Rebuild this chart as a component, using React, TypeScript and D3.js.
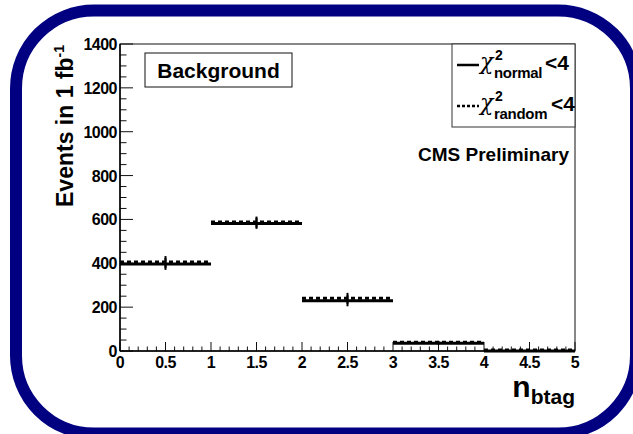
import { useEffect, useRef } from 'react';
import * as d3 from 'd3';

const binEdges = [0, 1, 2, 3, 4, 5];
const normalCounts = [397, 582, 229, 35, 0];
const randomCounts = [406, 588, 240, 40, 4];
const normalErrors = [27, 25, 25, 6, 0];
const randomErrors = [27, 25, 25, 6, 2];
const xTickLabels = ['0', '0.5', '1', '1.5', '2', '2.5', '3', '3.5', '4', '4.5', '5'];
const yTickLabels = ['0', '200', '400', '600', '800', '1000', '1200', '1400'];

const FONT = "'Liberation Sans', Arial, Helvetica, sans-serif";

export default function App() {
  const svgRef = useRef<SVGSVGElement>(null);

  useEffect(() => {
    if (!svgRef.current) return;
    const svg = d3.select(svgRef.current);
    svg.selectAll('*').remove();

    const left = 120, right = 575, top = 44, bottom = 351;
    const x = d3.scaleLinear().domain([0, 5]).range([left, right]);
    const y = d3.scaleLinear().domain([0, 1400]).range([bottom, top]);

    // white page + navy rounded frame
    svg.append('rect').attr('width', 633).attr('height', 434).attr('fill', '#fff');
    svg.append('rect')
      .attr('x', 16).attr('y', 10.5).attr('width', 620).attr('height', 423)
      .attr('rx', 78).attr('ry', 78)
      .attr('fill', '#fff').attr('stroke', '#000080').attr('stroke-width', 12);

    // plot frame
    svg.append('rect')
      .attr('x', left).attr('y', top).attr('width', right - left).attr('height', bottom - top)
      .attr('fill', 'none').attr('stroke', '#111').attr('stroke-width', 1);

    // y ticks
    const yMinor = d3.range(0, 1401, 50);
    svg.append('g').selectAll('line').data(yMinor).enter().append('line')
      .attr('x1', left).attr('x2', d => left + (d % 200 === 0 ? 13 : 6.5))
      .attr('y1', d => y(d)).attr('y2', d => y(d))
      .attr('stroke', '#111').attr('stroke-width', 1);
    svg.append('g').selectAll('text').data(yTickLabels).enter().append('text')
      .attr('x', left - 3).attr('y', d => y(+d) + 6)
      .attr('text-anchor', 'end')
      .attr('font-family', FONT).attr('font-weight', 'bold').attr('font-size', 16)
      .attr('letter-spacing', -0.5)
      .text(d => d);

    // x ticks
    const xMinor = d3.range(0, 51).map(i => i / 10);
    svg.append('g').selectAll('line').data(xMinor).enter().append('line')
      .attr('x1', d => x(d)).attr('x2', d => x(d))
      .attr('y1', bottom).attr('y2', (d, i) => bottom - (i % 5 === 0 ? 9 : 4.5))
      .attr('stroke', '#111').attr('stroke-width', 1);
    svg.append('g').selectAll('text').data(xTickLabels).enter().append('text')
      .attr('x', d => x(+d)).attr('y', bottom + 17)
      .attr('text-anchor', 'middle')
      .attr('font-family', FONT).attr('font-weight', 'bold').attr('font-size', 16)
      .attr('letter-spacing', -0.5)
      .text(d => d);

    // axis lines
    svg.append('line').attr('x1', left).attr('x2', left).attr('y1', top).attr('y2', bottom)
      .attr('stroke', '#000').attr('stroke-width', 1.5);
    svg.append('line').attr('x1', left).attr('x2', right).attr('y1', bottom).attr('y2', bottom)
      .attr('stroke', '#000').attr('stroke-width', 1.5);

    // histograms
    const bins = d3.range(normalCounts.length);
    const drawHist = (counts: number[], errs: number[], dash: string | null) => {
      const g = svg.append('g');
      g.selectAll('line.h').data(bins).enter().append('line')
        .attr('x1', i => x(binEdges[i])).attr('x2', i => x(binEdges[i + 1]))
        .attr('y1', i => y(counts[i])).attr('y2', i => y(counts[i]))
        .attr('stroke', '#000').attr('stroke-width', 3)
        .attr('stroke-dasharray', dash);
      g.selectAll('line.e').data(bins.filter(i => errs[i] > 0)).enter().append('line')
        .attr('x1', i => x((binEdges[i] + binEdges[i + 1]) / 2))
        .attr('x2', i => x((binEdges[i] + binEdges[i + 1]) / 2))
        .attr('y1', i => y(counts[i] - errs[i])).attr('y2', i => y(counts[i] + errs[i]))
        .attr('stroke', '#000').attr('stroke-width', 2);
    };
    drawHist(normalCounts, normalErrors, null);
    drawHist(randomCounts, randomErrors, '4,3');

    // y title
    const yt = svg.append('text')
      .attr('transform', `translate(73,45) rotate(-90)`)
      .attr('text-anchor', 'end')
      .attr('font-family', FONT).attr('font-weight', 'bold').attr('font-size', 23);
    yt.append('tspan').text('Events in 1 fb');
    yt.append('tspan').attr('dy', -9).attr('font-size', 14).text('-1');

    // x title
    const xt = svg.append('text')
      .attr('x', right).attr('y', 397)
      .attr('text-anchor', 'end')
      .attr('font-family', FONT).attr('font-weight', 'bold').attr('font-size', 30);
    xt.append('tspan').text('n');
    xt.append('tspan').attr('dy', 7).attr('font-size', 21).text('btag');

    // Background label
    svg.append('rect').attr('x', 145).attr('y', 53).attr('width', 147).attr('height', 34)
      .attr('fill', '#fff').attr('stroke', '#111').attr('stroke-width', 1);
    svg.append('text').attr('x', 218.5).attr('y', 78)
      .attr('text-anchor', 'middle')
      .attr('font-family', FONT).attr('font-weight', 'bold').attr('font-size', 21)
      .text('Background');

    // CMS Preliminary
    svg.append('text').attr('x', 569).attr('y', 161)
      .attr('text-anchor', 'end')
      .attr('font-family', FONT).attr('font-weight', 'bold').attr('font-size', 19)
      .text('CMS Preliminary');

    // legend
    svg.append('rect').attr('x', 452).attr('y', 44).attr('width', 123).attr('height', 83)
      .attr('fill', '#fff').attr('stroke', '#333').attr('stroke-width', 1);
    const entries = [
      { sub: 'normal', dash: null as string | null, cy: 65, lt: 545 },
      { sub: 'random', dash: '3,2', cy: 106, lt: 551 },
    ];
    svg.append('clipPath').attr('id', 'legclip').append('rect')
      .attr('x', 452).attr('y', 44).attr('width', 123).attr('height', 83);
    const lg = svg.append('g').attr('clip-path', 'url(#legclip)');
    entries.forEach(e => {
      lg.append('line').attr('x1', 457).attr('x2', 479).attr('y1', e.cy).attr('y2', e.cy)
        .attr('stroke', '#000').attr('stroke-width', 2.5).attr('stroke-dasharray', e.dash);
      lg.append('text').attr('x', 480).attr('y', e.cy + 4)
        .attr('font-family', "'DejaVu Serif', serif").attr('font-style', 'italic').attr('font-size', 22)
        .text('χ');
      lg.append('text').attr('x', 495).attr('y', e.cy - 5)
        .attr('font-family', FONT).attr('font-weight', 'bold').attr('font-size', 14)
        .text('2');
      lg.append('text').attr('x', 494).attr('y', e.cy + 13)
        .attr('font-family', FONT).attr('font-weight', 'bold').attr('font-size', 15)
        .attr('letter-spacing', -0.3)
        .text(e.sub);
      lg.append('text').attr('x', e.lt).attr('y', e.cy + 5)
        .attr('font-family', FONT).attr('font-weight', 'bold').attr('font-size', 21)
        .text('<4');
    });
  }, []);

  return (
    <svg
      ref={svgRef}
      width={633}
      height={434}
      style={{ position: 'absolute', left: 0, top: 0, display: 'block' }}
    />
  );
}
